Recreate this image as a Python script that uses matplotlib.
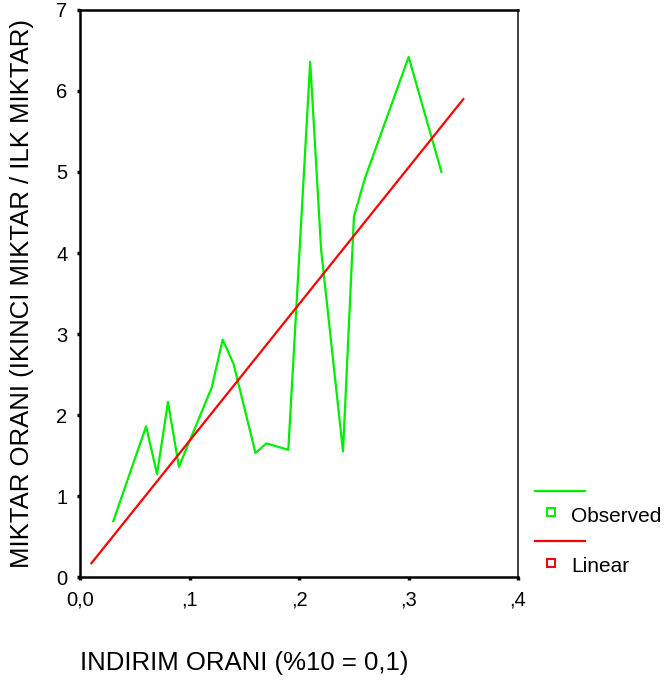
import numpy as np
import matplotlib.pyplot as plt
from matplotlib.lines import Line2D

plt.rcParams['font.family'] = ['Liberation Sans', 'DejaVu Sans']

# observed discount rate vs quantity ratio
indirim = [0.03, 0.06, 0.07, 0.08, 0.09, 0.12, 0.13, 0.14, 0.16, 0.17,
           0.19, 0.21, 0.22, 0.24, 0.25, 0.26, 0.30, 0.33]
miktar = [0.69, 1.86, 1.27, 2.16, 1.36, 2.34, 2.93, 2.63, 1.53, 1.65,
          1.57, 6.36, 4.04, 1.55, 4.45, 4.92, 6.42, 5.00]

# fitted linear model, endpoints
linear_x = [0.01, 0.35]
linear_y = [0.17, 5.90]

xticks = [0.0, 0.1, 0.2, 0.3, 0.4]
xticklabels = ['0,0', ',1', ',2', ',3', ',4']
yticks = [0, 1, 2, 3, 4, 5, 6, 7]

fig = plt.figure(figsize=(6.65, 6.84), dpi=100)
ax = fig.add_axes([0.121, 0.1564, 0.658, 0.829])

green = '#00ee00'
red = '#ff0000'
ax.plot(indirim, miktar, color=green, lw=1.6)
ax.plot(linear_x, linear_y, color=red, lw=1.6)

ax.set_xlim(0, 0.4)
ax.set_ylim(0, 7)
ax.set_xticks(xticks)
ax.set_xticklabels(xticklabels)
ax.set_yticks(yticks)
ax.tick_params(direction='out', length=2.5, width=2.5, labelsize=14.5, pad=7)
for side in ['left', 'bottom', 'top']:
    ax.spines[side].set_linewidth(1.8)
ax.spines['right'].set_linewidth(1.3)
ax.spines['right'].set_color('#333333')

fig.text(22 / 665, 0.5706, 'MIKTAR ORANI (IKINCI MIKTAR / ILK MIKTAR)',
         rotation=90, ha='center', va='center', fontsize=18.5)
fig.text(80 / 665, 1 - 663 / 684, 'INDIRIM ORANI (%10 = 0,1)',
         ha='left', va='center', fontsize=18.5)

# legend: line sample above, square marker beside the name
def fx(px):
    return px / 665

def fy(py):
    return 1 - py / 684

for (ly, my, ty, col, name) in [(490.5, 512, 516, green, 'Observed'),
                                (541, 562.5, 566, red, 'Linear')]:
    fig.add_artist(Line2D([fx(535), fx(585)], [fy(ly), fy(ly)], color=col, lw=1.6))
    fig.add_artist(Line2D([fx(551)], [fy(my)], marker='s', markersize=6,
                          markerfacecolor='white', markeredgecolor=col,
                          markeredgewidth=1.5, linestyle='none'))
    fig.text(fx(571), fy(ty), name, ha='left', va='center', fontsize=15)

fig.savefig('out.png', dpi=100)
